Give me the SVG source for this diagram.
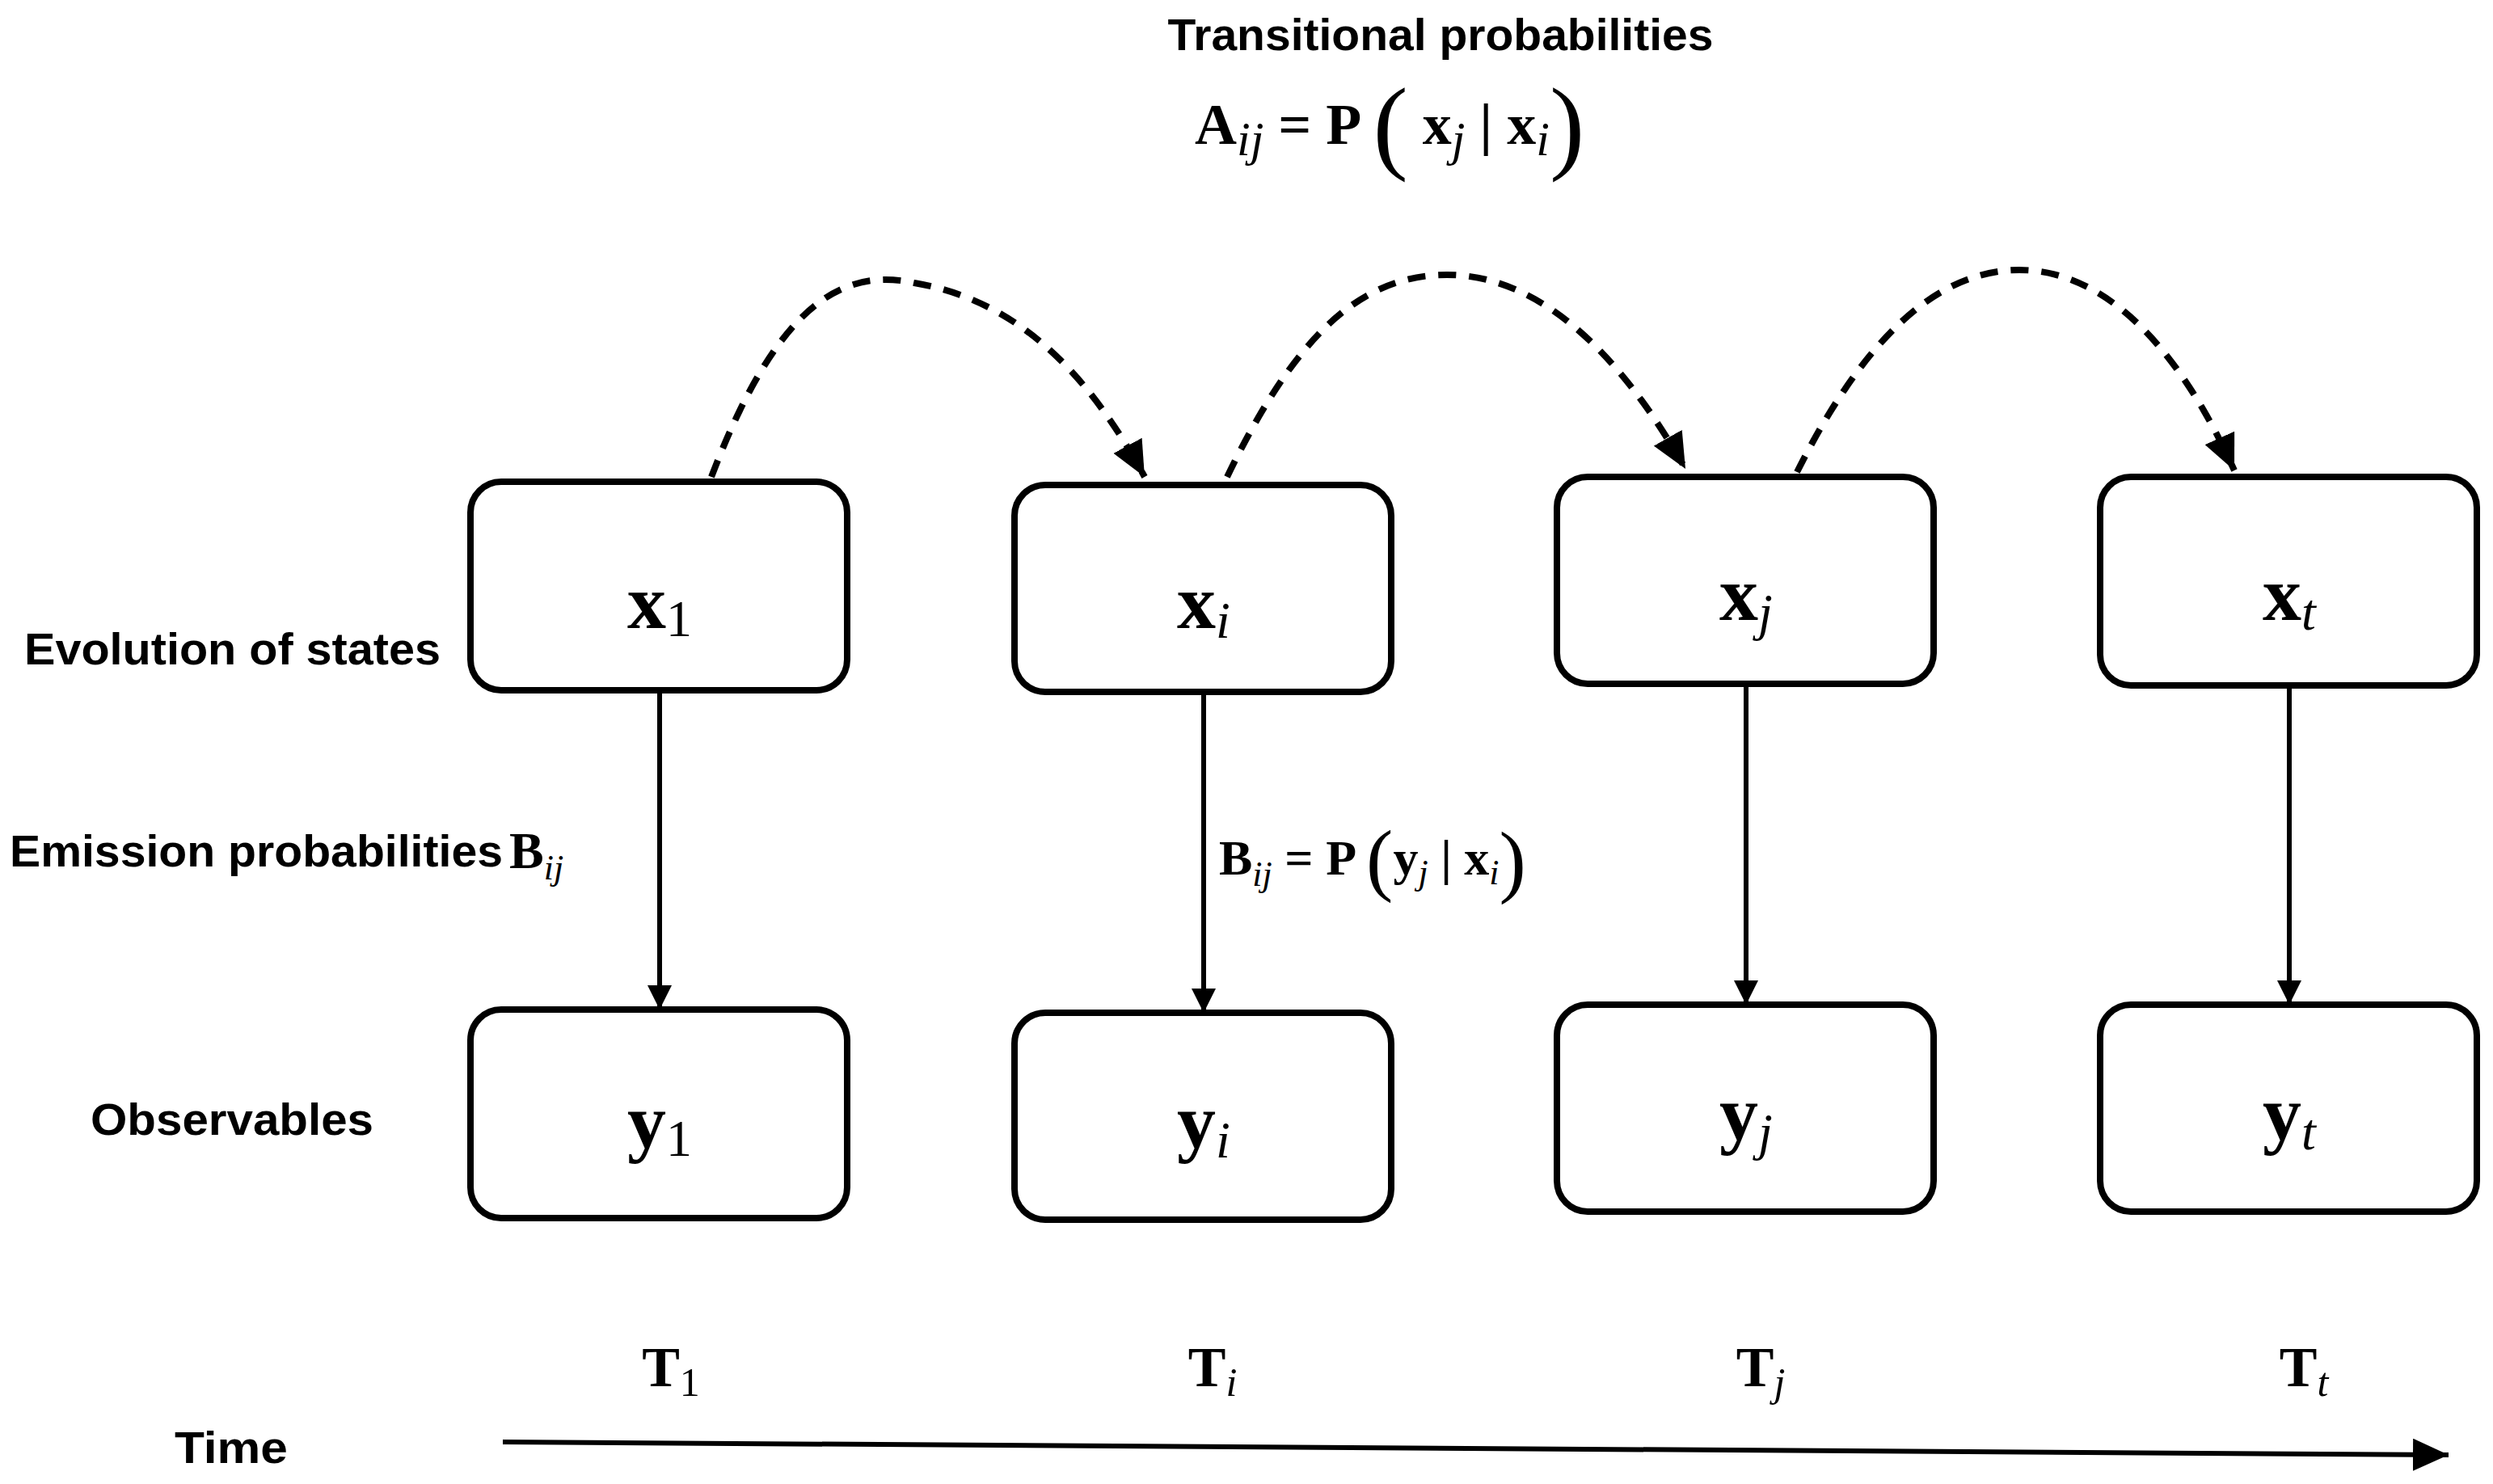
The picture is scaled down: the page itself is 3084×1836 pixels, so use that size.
<svg xmlns="http://www.w3.org/2000/svg" width="3084" height="1836" viewBox="0 0 3084 1836">
<style>
.box{fill:#fff;stroke:#000;stroke-width:8}
.lab{font-family:"Liberation Sans",Arial,sans-serif;font-weight:bold;font-size:56px}
.m{font-family:"Liberation Serif","Times New Roman",serif;font-weight:bold}
.it{font-style:italic;font-weight:normal}
.nl{font-size:96px}
.ml{font-size:70px}
.sub{font-size:60px}
.e{stroke:#000;stroke-width:6;fill:none}
.d{stroke:#000;stroke-width:8;fill:none;stroke-dasharray:22 16}
</style>
<defs>
<marker id="ah" markerWidth="10" markerHeight="10" refX="9" refY="5" orient="auto" markerUnits="userSpaceOnUse" viewBox="0 0 10 10"><path d="M0,0 L10,5 L0,10 z"/></marker>
<marker id="a" markerWidth="30" markerHeight="44" refX="30" refY="15" orient="auto" markerUnits="userSpaceOnUse"><path d="M0,0 L30,15 L0,30 z"/></marker>
<marker id="ad" markerWidth="48" markerHeight="40" refX="44" refY="20" orient="auto" markerUnits="userSpaceOnUse"><path d="M0,0 L44,20 L0,40 z"/></marker>
</defs>
<g id="title">
<text class="lab" x="1782" y="62" text-anchor="middle" textLength="675" lengthAdjust="spacingAndGlyphs">Transitional probabilities</text>
<text class="m" x="1478" y="178" font-size="72">A<tspan class="it sub" dy="14">ij</tspan><tspan dy="-14"> = P </tspan><tspan font-weight="normal" font-size="130" dy="20">(</tspan><tspan dy="-20"> x</tspan><tspan class="it sub" dy="14">j</tspan><tspan dy="-14"> | x</tspan><tspan class="it sub" dy="14">i</tspan><tspan font-weight="normal" font-size="130" dy="6">)</tspan></text>
</g>
<g id="labels">
<text class="lab" x="30" y="822" textLength="515" lengthAdjust="spacingAndGlyphs">Evolution of states</text>
<text class="lab" x="12" y="1072" textLength="610" lengthAdjust="spacingAndGlyphs">Emission probabilities</text>
<text class="m" x="630" y="1074" font-size="64">B<tspan class="it" font-size="44" dy="14">ij</tspan></text>
<text class="lab" x="112" y="1404" textLength="350" lengthAdjust="spacingAndGlyphs">Observables</text>
<text class="lab" x="216" y="1810" textLength="140" lengthAdjust="spacingAndGlyphs">Time</text>
<text class="m" x="1508" y="1082" font-size="62">B<tspan class="it" font-size="44" dy="14">ij</tspan><tspan dy="-14"> = P </tspan><tspan font-weight="normal" font-size="100" dy="14">(</tspan><tspan dy="-14">y</tspan><tspan class="it" font-size="44" dy="12">j</tspan><tspan dy="-12"> | x</tspan><tspan class="it" font-size="44" dy="12">i</tspan><tspan font-weight="normal" font-size="100" dy="4">)</tspan></text>
</g>
<g id="x1"><rect class="box" x="582" y="596" width="466" height="258" rx="38"/><text class="m nl" x="816" y="777" text-anchor="middle">x<tspan font-weight="normal" font-size="64" dy="10">1</tspan></text></g>
<g id="xi"><rect class="box" x="1255" y="600" width="466" height="256" rx="38"/><text class="m nl" x="1489" y="777" text-anchor="middle">x<tspan class="it" font-size="64" dy="12">i</tspan></text></g>
<g id="xj"><rect class="box" x="1926" y="590" width="466" height="256" rx="38"/><text class="m nl" x="2160" y="767" text-anchor="middle">x<tspan class="it" font-size="64" dy="12">j</tspan></text></g>
<g id="xt"><rect class="box" x="2598" y="590" width="466" height="258" rx="38"/><text class="m nl" x="2832" y="767" text-anchor="middle">x<tspan class="it" font-size="64" dy="12">t</tspan></text></g>
<g id="y1"><rect class="box" x="582" y="1249" width="466" height="258" rx="38"/><text class="m nl" x="816" y="1420" text-anchor="middle">y<tspan font-weight="normal" font-size="64" dy="10">1</tspan></text></g>
<g id="yi"><rect class="box" x="1255" y="1253" width="466" height="256" rx="38"/><text class="m nl" x="1489" y="1420" text-anchor="middle">y<tspan class="it" font-size="64" dy="12">i</tspan></text></g>
<g id="yj"><rect class="box" x="1926" y="1243" width="466" height="256" rx="38"/><text class="m nl" x="2160" y="1410" text-anchor="middle">y<tspan class="it" font-size="64" dy="12">j</tspan></text></g>
<g id="yt"><rect class="box" x="2598" y="1243" width="466" height="256" rx="38"/><text class="m nl" x="2832" y="1410" text-anchor="middle">y<tspan class="it" font-size="64" dy="12">t</tspan></text></g>
<g id="times">
<text class="m" x="830" y="1715" font-size="70" text-anchor="middle">T<tspan font-weight="normal" font-size="50" dy="12">1</tspan></text>
<text class="m" x="1500" y="1715" font-size="70" text-anchor="middle">T<tspan class="it" font-size="50" dy="12">i</tspan></text>
<text class="m" x="2178" y="1715" font-size="70" text-anchor="middle">T<tspan class="it" font-size="50" dy="12">j</tspan></text>
<text class="m" x="2850" y="1715" font-size="70" text-anchor="middle">T<tspan class="it" font-size="50" dy="12">t</tspan></text>
</g>
<g id="connectors">
<line class="e" x1="816" y1="854" x2="816" y2="1249" marker-end="url(#a)"/>
<line class="e" x1="1489" y1="856" x2="1489" y2="1253" marker-end="url(#a)"/>
<line class="e" x1="2160" y1="846" x2="2160" y2="1243" marker-end="url(#a)"/>
<line class="e" x1="2832" y1="848" x2="2832" y2="1243" marker-end="url(#a)"/>
<path class="d" d="M880,590 C960,380 1040,330 1131,350 C1250,370 1340,450 1416,590" marker-end="url(#ad)"/>
<path class="d" d="M1518,590 C1600,420 1680,340 1790,340 C1900,340 2000,430 2085,580" marker-end="url(#ad)"/>
<path class="d" d="M2223,584 C2300,430 2390,334 2498,334 C2610,334 2700,440 2764,582" marker-end="url(#ad)"/>
<line class="e" x1="622" y1="1784" x2="3029" y2="1800" marker-end="url(#ad)"/>
</g>
</svg>
